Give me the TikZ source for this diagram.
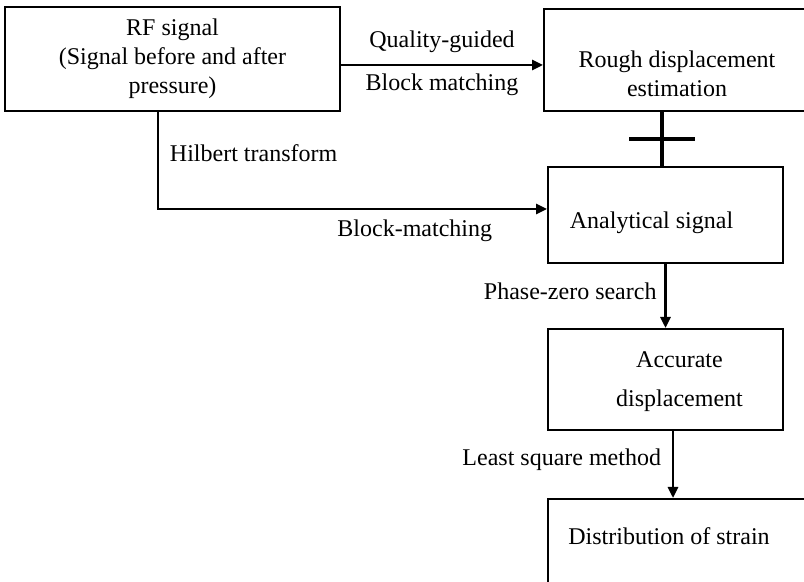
\documentclass[tikz,border=0pt]{standalone}
\usepackage{fontspec}
\setmainfont{Liberation Serif}
\usetikzlibrary{arrows.meta,calc}

\begin{document}
\begin{tikzpicture}[x=0.5pt,y=-0.5pt,font=\fontsize{12pt}{14.5pt}\selectfont]
	\tikzset{block/.style={draw=black,line width=1pt,inner sep=0pt,align=center},
		flow/.style={line width=1.3pt,-{Triangle[length=5.5pt,width=5pt]}},
		link/.style={line width=2pt}}
	\useasboundingbox (0,0) rectangle (804,582);
	\clip (0,0) rectangle (804,582);
	\node[block,minimum width=167.5pt,minimum height=52pt] (rf) at (172.5,59) {RF signal\\(Signal before and after\\pressure)}; %blocks
	\node[block,minimum width=131pt,minimum height=51pt,label={[align=center,xshift=1pt,yshift=-7pt]center:Rough displacement\\estimation}] (rough) at (675,60) {};
	\node[block,minimum width=117.5pt,minimum height=48pt,label={[xshift=-7pt,yshift=-4pt]center:Analytical signal}] (ana) at (665.5,215) {};
	\node[block,minimum width=117.5pt,minimum height=50.5pt,label={[align=center,xshift=7pt,yshift=-1pt]center:Accurate\\[5pt]displacement}] (acc) at (665.5,379.5) {};
	\node[block,minimum width=136pt,minimum height=51pt,label={[xshift=-7.5pt,yshift=7pt]center:Distribution of strain}] (dist) at (684,550) {};
	\draw[flow] ([yshift=-3pt]rf.east) -- ([yshift=-3pt]rf.east -| rough.west)
		node[midway,above=2pt] {Quality-guided} node[midway,below=0.5pt] {Block matching}; %arrows
	\draw[flow] ([xshift=-7.25pt]rf.south) |- ([yshift=3pt]ana.west)
		node[pos=0.21,right=2pt] {Hilbert transform} node[pos=0.83,below=1.5pt] {Block-matching};
	\draw[link] ([xshift=-1.75pt]ana.north) -- ([xshift=-1.75pt]ana.north |- rough.south); %cross link
	\draw[link] ($([xshift=-1.75pt]ana.north)!0.5!([xshift=-1.75pt]ana.north |- rough.south)$) ++(-16.5pt,0) -- ++(33pt,0);
	\draw[flow] (ana.south) -- (acc.north) node[pos=0.42,left=0.5pt] {Phase-zero search};
	\draw[flow] ([xshift=3.75pt]acc.south) -- ([xshift=3.75pt]acc.south |- dist.north) node[pos=0.43,left=2pt] {Least square method};
\end{tikzpicture}
\end{document}
